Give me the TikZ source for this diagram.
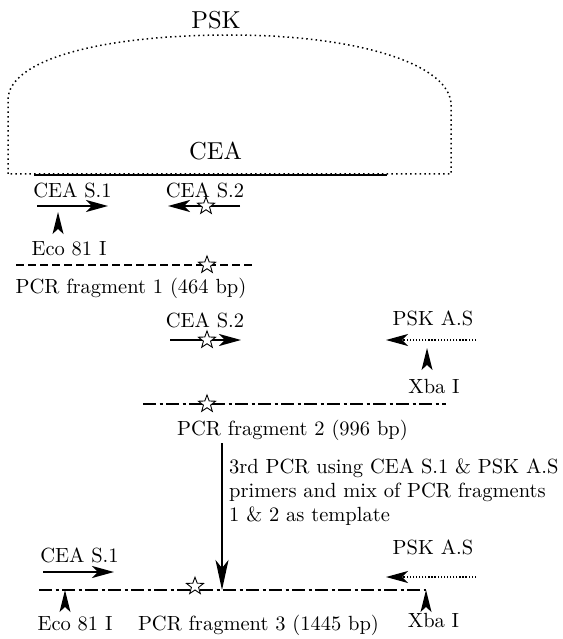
\documentclass[tikz,border=0pt]{standalone}
\usepackage{fontspec}
\setmainfont{lmroman10-regular.otf}
\usetikzlibrary{arrows.meta,shapes.geometric}
\tikzset{
  lbl/.style={inner sep=0pt, anchor=base, font=\fontsize{20.5}{24}\selectfont},
  biglbl/.style={inner sep=0pt, anchor=base, font=\fontsize{24.5}{30}\selectfont},
  primer/.style={line width=2.2pt, -{Stealth[length=22pt,width=12pt,inset=6pt]}},
  dprimer/.style={line width=1.3pt, dash pattern=on 1.3pt off 1.8pt, -{Stealth[length=22pt,width=12pt,inset=6pt]}},
  dotbox/.style={line width=1.5pt, dash pattern=on 1.5pt off 3.2pt},
  frag1/.style={line width=1.6pt, dash pattern=on 8pt off 4pt},
  fragdd/.style={line width=2pt, dash pattern=on 13pt off 3.5pt on 3pt off 3.5pt},
  starmark/.style={star, star points=5, star point ratio=2.4, minimum size=18pt, draw, fill=white, line width=0.9pt, inner sep=0pt},
  bigarrow/.style={line width=2pt, -{Stealth[length=30pt,width=13pt,inset=8pt]}},
  site/.pic={\fill (0,0) -- (-5.5,22) -- (0,17) -- (5.5,22) -- cycle;}
}
\begin{document}
\begin{tikzpicture}[x=1pt,y=-1pt]
\useasboundingbox (0,0) rectangle (562,639);
% PSK plasmid
\node[biglbl] (psk) at (216,29) {PSK};
\draw[dotbox] (8,174) -- (8,100) .. controls (8,60) and (100,35) .. (230,35)
   .. controls (360,35) and (451,65) .. (451,105) -- (451,174) -- cycle;
\node[biglbl] (cea) at (215.5,160) {CEA};
\coordinate (ceaL) at (34,175);
\coordinate (ceaR) at (387,175);
\draw[line width=2pt] (ceaL) -- (ceaR);
% first PCR primers
\node[lbl] (s1u) at (72.5,197) {CEA S.1};
\node[lbl] (s2u) at (205,197) {CEA S.2};
\coordinate (s1uA) at (37,206);
\coordinate (s1uB) at (108,206);
\draw[primer] (s1uA) -- (s1uB);
\coordinate (s2uA) at (240,206);
\coordinate (s2uB) at (168,206);
\draw[primer] (s2uA) -- (s2uB);
\node[starmark] (staru) at (206,206) {};
\pic at (58,212) {site};
\node[lbl] (eco1) at (69,255) {Eco 81 I};
% fragment 1
\coordinate (f1L) at (16,265);
\coordinate (f1R) at (254,265);
\draw[frag1] (f1L) -- (f1R);
\node[starmark] (star1) at (207,265) {};
\node[lbl] (f1lbl) at (131,293) {PCR fragment 1 (464 bp)};
% second PCR primers
\node[lbl] (s2m) at (205,327) {CEA S.2};
\node[lbl] (pskm) at (433,325) {PSK A.S};
\coordinate (s2mA) at (170,340);
\coordinate (s2mB) at (241,340);
\draw[primer] (s2mA) -- (s2mB);
\node[starmark] (starm) at (207,340) {};
\coordinate (pmA) at (476,340);
\coordinate (pmB) at (386,340);
\draw[dprimer] (pmA) -- (pmB);
\pic at (427,348) {site};
\node[lbl] (xba1) at (434,393) {Xba I};
% fragment 2
\coordinate (f2L) at (143,404);
\coordinate (f2R) at (446,404);
\draw[fragdd] (f2L) -- (f2R);
\node[starmark] (star2) at (207,404) {};
\node[lbl] (f2lbl) at (292.5,435) {PCR fragment 2 (996 bp)};
% third PCR
\coordinate (vA) at (222,443);
\coordinate (vB) at (222,590);
\draw[bigarrow] (vA) -- (vB);
\node[lbl, anchor=base west, align=left] (note) at (229,521)
  {3rd PCR using CEA S.1 \& PSK A.S\\primers and mix of PCR fragments\\1 \& 2 as template};
% fragment 3
\node[lbl] (s1l) at (79.5,562) {CEA S.1};
\node[lbl] (pskl) at (433,554) {PSK A.S};
\coordinate (s1lA) at (43,572);
\coordinate (s1lB) at (114,572);
\draw[primer] (s1lA) -- (s1lB);
\coordinate (plA) at (476,577);
\coordinate (plB) at (386,577);
\draw[dprimer] (plA) -- (plB);
\coordinate (f3L) at (39,590);
\coordinate (f3R) at (426,590);
\draw[fragdd] (f3L) -- (f3R);
\node[starmark, anchor=south] (star3) at (195,590.5) {};
\pic at (65,590) {site};
\pic at (426,590) {site};
\node[lbl] (eco2) at (75,630) {Eco 81 I};
\node[lbl] (f3lbl) at (258.5,630) {PCR fragment 3 (1445 bp)};
\node[lbl] (xba2) at (433.5,627) {Xba I};
\end{tikzpicture}
\end{document}
